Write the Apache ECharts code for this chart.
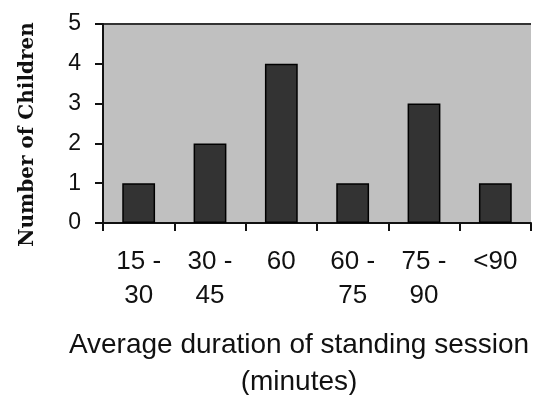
<!DOCTYPE html>
<html>
<head>
<meta charset="utf-8">
<script src="https://cdn.jsdelivr.net/npm/echarts@6/dist/echarts.min.js"></script>
<style>
  html, body { margin: 0; padding: 0; background: #fff; }
  #chart { width: 536px; height: 395px; }
</style>
</head>
<body>
<div id="chart"></div>
<script>
var categories = ['15 -\n30', '30 -\n45', '60', '60 -\n75', '75 -\n90', '<90'];
var children = [1, 2, 4, 1, 3, 1];
var yTicks = [0, 1, 2, 3, 4, 5];

var chart = echarts.init(document.getElementById('chart'));
chart.setOption({
    animation: false,
    title: {
        text: 'Average duration of standing session\n(minutes)',
        left: 294,
        top: 322,
        textAlign: 'center',
        textStyle: {
            fontFamily: 'Liberation Sans',
            fontWeight: 'normal',
            fontSize: 28,
            lineHeight: 37,
            color: '#111'
        }
    },
    grid: {
        left: 103,
        right: 5,
        top: 24,
        bottom: 172,
        show: true,
        backgroundColor: '#c0c0c0',
        borderWidth: 0
    },
    xAxis: {
        type: 'category',
        data: categories,
        axisLine: { lineStyle: { color: '#111', width: 2 } },
        axisTick: { show: true, inside: false, length: 8, lineStyle: { color: '#111', width: 2 } },
        axisLabel: {
            interval: 0,
            margin: 22,
            fontFamily: 'Liberation Sans',
            fontSize: 26,
            lineHeight: 34,
            color: '#111'
        }
    },
    yAxis: {
        type: 'value',
        min: yTicks[0],
        max: yTicks[yTicks.length - 1],
        interval: 1,
        name: 'Number of Children',
        nameLocation: 'middle',
        nameGap: 65,
        nameTextStyle: {
            fontFamily: 'DejaVu Serif',
            fontWeight: 'bold',
            fontSize: 20,
            color: '#111',
            padding: [0, 22, 0, 0]
        },
        axisLine: { show: true, lineStyle: { color: '#111', width: 2 } },
        axisTick: { show: true, length: 8, lineStyle: { color: '#111', width: 2 } },
        axisLabel: {
            margin: 22,
            fontFamily: 'Liberation Sans',
            fontSize: 23,
            color: '#111'
        },
        splitLine: { show: false }
    },
    series: [{
        type: 'bar',
        data: children,
        barWidth: '46%',
        itemStyle: {
            color: '#333333',
            borderColor: '#000',
            borderWidth: 1.5
        }
    }]
});
// top border line of plot area
chart.setOption({
    graphic: [{
        type: 'line',
        shape: { x1: 103, y1: 24, x2: 531, y2: 24 },
        style: { stroke: '#333', lineWidth: 2 }
    }]
});
</script>
</body>
</html>
